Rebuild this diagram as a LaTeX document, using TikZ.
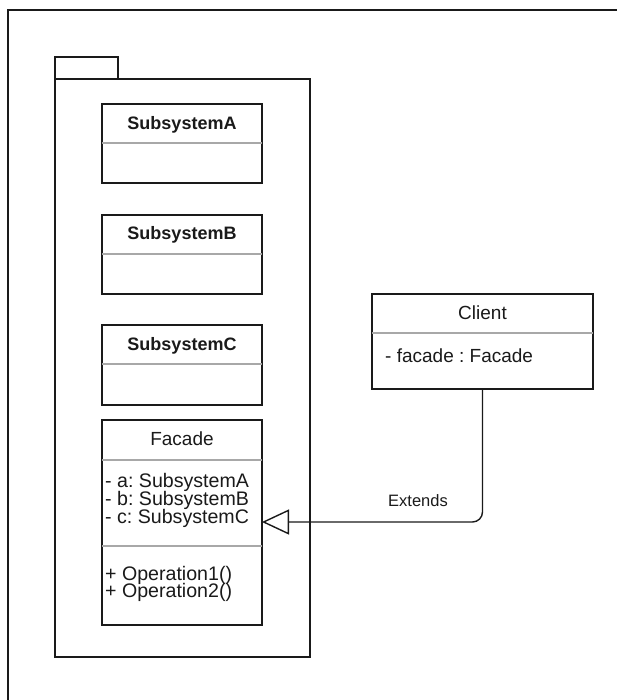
\documentclass[tikz,border=0pt]{standalone}
\usepackage{fontspec}
\setmainfont{Liberation Sans}
\usetikzlibrary{arrows.meta}
\frenchspacing
\definecolor{ink}{HTML}{1A1A1A}
\definecolor{rule}{HTML}{A8A8A8}
\tikzset{
  box/.style={draw=ink, line width=1.4pt, fill=white, outer sep=0pt, inner sep=0pt},
  divider/.style={draw=rule, line width=1.2pt},
  frameline/.style={draw=ink, line width=2.2pt},
  titlebold/.style={inner sep=0pt, anchor=base, text=ink, font=\fontsize{18}{18}\selectfont\bfseries},
  title/.style={inner sep=0pt, anchor=base, text=ink, font=\fontsize{19}{19}\selectfont},
  member/.style={inner sep=0pt, anchor=base west, text=ink, font=\fontsize{19.6}{19.6}\selectfont},
  clientmember/.style={member, font=\fontsize{19}{19}\selectfont},
  edgelabel/.style={inner sep=0pt, anchor=base, text=ink, font=\fontsize{16.5}{16.5}\selectfont},
  generalization/.style={draw=ink, line width=1.4pt, rounded corners=10pt,
    -{Triangle[open, length=27pt, width=25pt]}},
}
\begin{document}
\begin{tikzpicture}[x=1pt, y=-1pt]
  \useasboundingbox (0,0) rectangle (617,700);
  \clip (0,0) rectangle (617,700);

  % outer frame, running off the right and bottom edges
  \draw[frameline] (8,10) rectangle (640,720);

  % package: tab and body
  \draw[box] (55,57) rectangle (118,79);
  \draw[box] (55,79) rectangle (310,657);

  % SubsystemA
  \draw[box] (102,104) rectangle (262,183);
  \draw[divider] (102,143) -- (262,143);
  \node[titlebold] (subA) at (182,129.3) {SubsystemA};

  % SubsystemB
  \draw[box] (102,215) rectangle (262,294);
  \draw[divider] (102,254) -- (262,254);
  \node[titlebold] (subB) at (182,240) {SubsystemB};

  % SubsystemC
  \draw[box] (102,325) rectangle (262,405);
  \draw[divider] (102,364) -- (262,364);
  \node[titlebold] (subC) at (182,350) {SubsystemC};

  % Facade
  \node[box, minimum width=160pt, minimum height=205pt, anchor=north west]
    (facade) at (102,420) {};
  \draw[divider] (102,460) -- (262,460);
  \draw[divider] (102,546) -- (262,546);
  \node[title] (facadeT) at (182,445) {Facade};
  \node[member] (fa) at (105,487.3) {- a: SubsystemA};
  \node[member] (fb) at (105,505.5) {- b: SubsystemB};
  \node[member] (fc) at (105,523.3) {- c: SubsystemC};
  \node[member] (op1) at (105,580) {+ Operation1()};
  \node[member] (op2) at (105,597.7) {+ Operation2()};

  % Client
  \node[box, minimum width=221pt, minimum height=95pt, anchor=north west]
    (client) at (372,294) {};
  \draw[divider] (372,333) -- (593,333);
  \node[title] (clientT) at (482.5,319) {Client};
  \node[clientmember] (cf) at (385,362.7) {- facade : Facade};

  % generalization: Client extends Facade
  \coordinate (bend) at (client.south |- 0,522);
  \draw[generalization] (client.south) -- (bend) -- (facade.east |- 0,522);
  \node[edgelabel] (ext) at (418,506.7) {Extends};
\end{tikzpicture}
\end{document}
